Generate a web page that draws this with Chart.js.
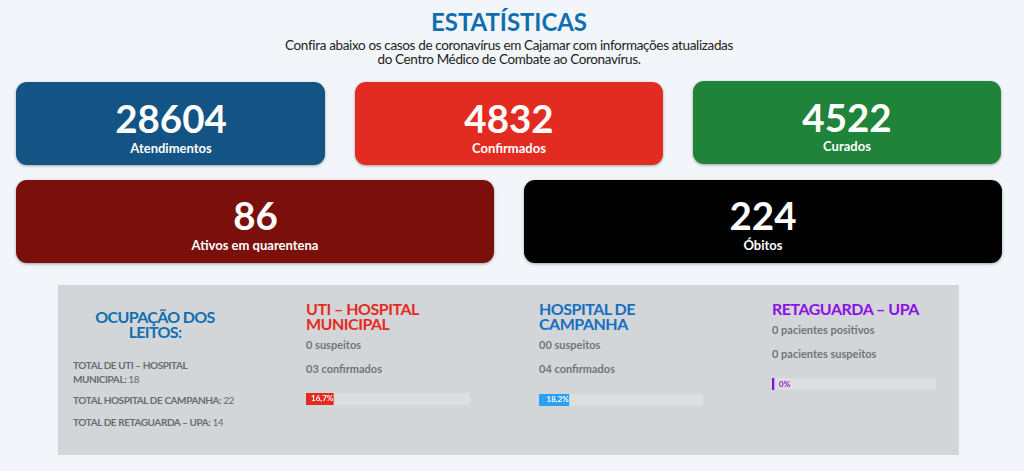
<!DOCTYPE html>
<html lang="pt-BR">
<head>
<meta charset="utf-8">
<title>Estatísticas</title>
<script src="https://cdn.jsdelivr.net/npm/chart.js@4"></script>
<style>
  html, body { margin: 0; padding: 0; width: 1024px; height: 471px; overflow: hidden; background: #f2f6fa; font-family: Lato, sans-serif; }
  .abs { position: absolute; }
  #title { left: 0; width: 1018px; top: 7px; text-align: center; font-size: 24px; line-height: 30px; font-weight: 700; color: #0f6eb0; letter-spacing: -0.05px; }
  #intro { left: 0; width: 1018px; top: 39px; text-align: center; font-size: 13.5px; line-height: 13.5px; color: #222; letter-spacing: -0.35px; }
  .card { position: absolute; border-radius: 11px; color: #fff; text-align: center; box-shadow: 0 1px 3px rgba(0,0,0,.35); height: 83px; }
  .card .num { position: absolute; left: 0; right: 0; top: 13px; font-size: 38.5px; line-height: 46px; font-weight: 700; }
  .card .lab { position: absolute; left: 0; right: 0; top: 57px; font-size: 13px; line-height: 18px; font-weight: 700; }
  #c0 { left: 16px; top: 82px; width: 309px; }
  #c1 { left: 355px; top: 82px; width: 308px; }
  #c2 { left: 693px; top: 81px; width: 308px; }
  #c3 { left: 16px; top: 180px; width: 478px; }
  #c4 { left: 524px; top: 180px; width: 478px; }
  #c0 .num, #c0 .lab { left: 1px; }
  #c2 .lab, #c3 .lab, #c4 .lab { top: 56px; }
  #c3 .num, #c4 .num { top: 12px; }
  #c3 .num { left: 1px; }
  #panel { left: 58px; top: 285px; width: 901px; height: 170px; background: #d3d6d9; }
  #occTitle { left: 80px; width: 150px; top: 310px; text-align: center; font-size: 16px; line-height: 14.5px; font-weight: 700; color: #0f6eb0; letter-spacing: -0.65px; }
  .total { position: absolute; left: 73px; width: 165px; font-size: 10px; line-height: 13.5px; font-weight: 700; color: #6b6b6b; letter-spacing: -0.42px; }
  .total span { font-weight: 400; }
  .head { position: absolute; font-size: 16px; line-height: 14.5px; font-weight: 700; width: 150px; letter-spacing: -0.5px; }
  .info { position: absolute; font-size: 11px; line-height: 14px; font-weight: 700; color: #747474; width: 190px; }
  .track { position: absolute; width: 164px; height: 12px; background: #dedede; }
  .track canvas { display: block; }
</style>
</head>
<body>
<div class="abs" id="title"></div>
<div class="abs" id="intro"></div>
<div id="cards"></div>
<div class="abs" id="panel"></div>
<div class="abs" id="occTitle"></div>
<div id="totals"></div>
<div id="wards"></div>
<script>
const pageTitle = 'ESTATÍSTICAS';
const introLines = ['Confira abaixo os casos de coronavírus em Cajamar com informações atualizadas', 'do Centro Médico de Combate ao Coronavírus.'];

const cardLabels = ['Atendimentos', 'Confirmados', 'Curados', 'Ativos em quarentena', 'Óbitos'];
const cardValues = [28604, 4832, 4522, 86, 224];
const cardColors = ['#135485', '#e32c21', '#1f8439', '#7a0f0c', '#000000'];

const occupancyTitle = ['OCUPAÇÃO DOS', 'LEITOS:'];
const totalLabels = ['TOTAL DE UTI – HOSPITAL MUNICIPAL:', 'TOTAL HOSPITAL DE CAMPANHA:', 'TOTAL DE RETAGUARDA – UPA:'];
const totalBeds = [18, 22, 14];
const totalTops = [359, 394, 416];

const wardNames = ['UTI – HOSPITAL MUNICIPAL', 'HOSPITAL DE CAMPANHA', 'RETAGUARDA – UPA'];
const wardLine1 = ['0 suspeitos', '00 suspeitos', '0 pacientes positivos'];
const wardLine2 = ['03 confirmados', '04 confirmados', '0 pacientes suspeitos'];
const wardPercent = [16.7, 18.2, 0];
const wardPercentText = ['16,7%', '18,2%', '0%'];
const wardColors = ['#e52b20', '#2d9ff0', '#8b10e8'];
const wardLabelColors = ['#ffffff', '#ffffff', '#8b10e8'];
const wardLefts = [306, 539, 772];
const wardHeadTops = [302, 302, 302];
const wardLine1Tops = [338, 338, 323];
const wardLine2Tops = [362, 362, 347];
const wardBarTops = [393, 394, 378];
const wardHeadColors = ['#e52b20', '#166fc0', '#8b10e8'];

document.getElementById('title').textContent = pageTitle;
document.getElementById('intro').innerHTML = introLines.join('<br>');
document.getElementById('occTitle').innerHTML = occupancyTitle.join('<br>');

document.getElementById('cards').innerHTML = cardLabels.map((label, i) => `
  <div class="card" id="c${i}" style="background:${cardColors[i]}">
    <div class="num">${cardValues[i]}</div>
    <div class="lab">${label}</div>
  </div>`).join('');

document.getElementById('totals').innerHTML = totalLabels.map((label, i) => `
  <div class="total" style="top:${totalTops[i]}px">${label} <span>${totalBeds[i]}</span></div>`).join('');

document.getElementById('wards').innerHTML = wardNames.map((name, i) => `
  <div class="head" style="left:${wardLefts[i]}px;top:${wardHeadTops[i]}px;color:${wardHeadColors[i]}">${name}</div>
  <div class="info" style="left:${wardLefts[i]}px;top:${wardLine1Tops[i]}px">${wardLine1[i]}</div>
  <div class="info" style="left:${wardLefts[i]}px;top:${wardLine2Tops[i]}px">${wardLine2[i]}</div>
  <div class="track" style="left:${wardLefts[i]}px;top:${wardBarTops[i]}px"><canvas id="bar${i}" width="164" height="12"></canvas></div>`).join('');

// writes the percentage at the end of the bar, like the progress widgets
const barText = {
  id: 'barText',
  afterDatasetsDraw(chart, args, opts) {
    const bar = chart.getDatasetMeta(0).data[0];
    const ctx = chart.ctx;
    ctx.save();
    ctx.font = '700 8px Lato';
    ctx.fillStyle = opts.color;
    ctx.textBaseline = 'middle';
    if (opts.inside) {
      ctx.textAlign = 'right';
      ctx.fillText(opts.text, bar.x, bar.y - 0.5);
    } else {
      ctx.textAlign = 'left';
      ctx.fillText(opts.text, bar.x + 5, bar.y);
    }
    ctx.restore();
  }
};

wardNames.forEach((name, i) => {
  new Chart(document.getElementById('bar' + i).getContext('2d'), {
    type: 'bar',
    data: {
      labels: [name],
      datasets: [{
        data: [wardPercent[i]],
        backgroundColor: wardColors[i],
        borderWidth: 0,
        barPercentage: 1,
        categoryPercentage: 1,
        minBarLength: 2
      }]
    },
    options: {
      indexAxis: 'y',
      responsive: false,
      animation: false,
      layout: { padding: 0 },
      scales: {
        x: { display: false, min: 0, max: 100 },
        y: { display: false }
      },
      plugins: {
        legend: { display: false },
        tooltip: { enabled: false },
        barText: { text: wardPercentText[i], color: wardLabelColors[i], inside: wardPercent[i] > 0 }
      }
    },
    plugins: [barText]
  });
});
</script>
</body>
</html>
